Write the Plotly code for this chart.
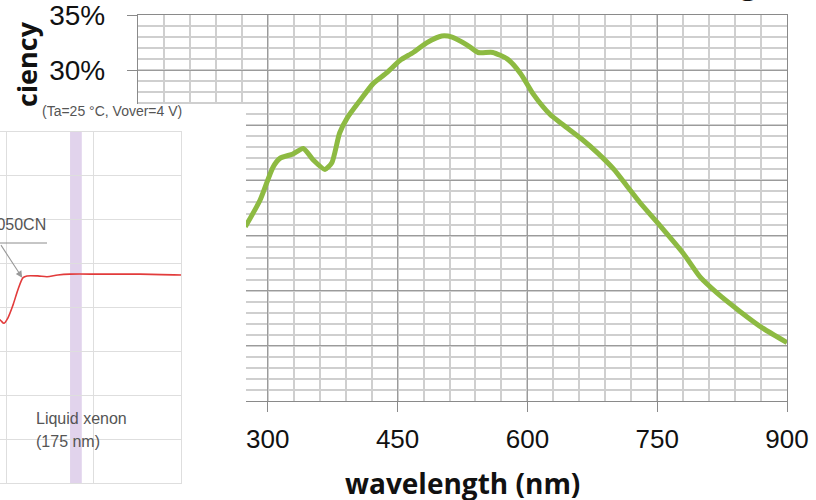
import plotly.graph_objects as go

W, H = 816, 500

# ---------------- main chart: PDE vs wavelength ----------------
wavelength_nm = [274, 291, 306, 314, 329, 341, 352, 366, 374, 383, 392, 407, 422, 438, 453,
                 468, 484, 501, 513, 530, 543, 560, 577, 592, 607, 626, 642, 662, 681, 700,
                 715, 730, 751, 780, 800, 819, 846, 872, 900]
pde_percent = [15.8, 18.2, 21.2, 22.0, 22.4, 22.9, 21.9, 21.0, 21.6, 24.3, 25.7, 27.3, 28.8,
               29.8, 30.9, 31.6, 32.5, 33.1, 33.0, 32.3, 31.6, 31.6, 31.0, 29.7, 27.8, 26.0,
               25.0, 23.8, 22.5, 21.0, 19.5, 18.0, 16.1, 13.4, 11.2, 9.8, 8.1, 6.6, 5.3]
x_tick_vals = [150, 300, 450, 600, 750, 900]
x_tick_text = ["150", "300", "450", "600", "750", "900"]
y_tick_vals = [0, 5, 10, 15, 20, 25, 30, 35]
y_tick_text = ["0%", "5%", "10%", "15%", "20%", "25%", "30%", "35%"]

# ---------------- inset: VUV PDE ----------------
inset_nm = [157.0, 158.4, 159.3, 160.2, 161.4, 162.5, 163.7, 164.6, 167.1, 169.2, 171.7,
            174.5, 181.4, 190.6, 200.0]
inset_pde = [19.0, 18.6, 18.2, 18.8, 20.3, 22.0, 23.4, 23.6, 23.6, 23.5, 23.7, 23.8, 23.8,
             23.8, 23.7]
inset_tick_vals = [160, 180, 200]
inset_tick_text = ["160", "180", "200"]
xenon_band = [174.5, 177.2]


def fx(p):
    return p / W


def fy(p):
    return 1 - p / H


fig = go.Figure()

fig.add_trace(go.Scatter(
    x=wavelength_nm, y=pde_percent, mode="lines",
    line=dict(color="#8dba42", width=5, shape="spline", smoothing=0.6),
    xaxis="x", yaxis="y", hoverinfo="skip", showlegend=False))

# white cover of the pasted inset picture
fig.add_trace(go.Scatter(
    x=[0, 1, 1, 0, 0], y=[0, 0, 1, 1, 0], mode="lines", fill="toself",
    fillcolor="white", line=dict(width=0, color="white"),
    xaxis="x2", yaxis="y2", hoverinfo="skip", showlegend=False))

fig.add_trace(go.Scatter(
    x=inset_nm, y=inset_pde, mode="lines",
    line=dict(color="#e23b3b", width=1.6, shape="spline", smoothing=0.8),
    xaxis="x3", yaxis="y3", hoverinfo="skip", showlegend=False))

major_grid = "#9b9b9b"
minor_grid = "#cfcfcf"
tick_font = dict(family="Liberation Sans, Arial, sans-serif", color="#111")

fig.update_layout(
    width=W, height=H, autosize=False,
    margin=dict(l=0, r=0, t=0, b=0, pad=0),
    paper_bgcolor="white", plot_bgcolor="white",
    showlegend=False,
    xaxis=dict(
        domain=[fx(138), fx(787)], range=[150, 900], anchor="y",
        tickvals=x_tick_vals, ticktext=x_tick_text, ticks="outside", ticklen=10,
        tickwidth=1.3, tickcolor="#8a8a8a", tickfont=dict(size=26, **tick_font),
        ticklabelstandoff=5, ticklabeloverflow="allow",
        showgrid=True, gridcolor=major_grid, gridwidth=1.4,
        minor=dict(dtick=30, tick0=150, showgrid=True, gridcolor=minor_grid, gridwidth=2),
        showline=True, linecolor="#8a8a8a", linewidth=1.4, mirror=True,
        zeroline=False, automargin=False, fixedrange=True),
    yaxis=dict(
        domain=[fy(401), fy(15)], range=[0, 35], anchor="x",
        tickvals=y_tick_vals, ticktext=y_tick_text, ticks="outside", ticklen=10,
        tickwidth=1.3, tickcolor="#8a8a8a", tickfont=dict(size=28, **tick_font),
        ticklabelstandoff=16, ticklabeloverflow="allow",
        showgrid=True, gridcolor=major_grid, gridwidth=1.4,
        minor=dict(dtick=1, tick0=0, showgrid=True, gridcolor=minor_grid, gridwidth=2),
        showline=True, linecolor="#8a8a8a", linewidth=1.4, mirror=True,
        zeroline=False, automargin=False, fixedrange=True),
    xaxis2=dict(domain=[0, fx(246)], range=[0, 1], anchor="y2", visible=False,
                fixedrange=True),
    yaxis2=dict(domain=[0, fy(104)], range=[0, 1], anchor="x2", visible=False,
                fixedrange=True),
    xaxis3=dict(
        domain=[0, fx(181)], range=[158.4, 200], anchor="y3",
        tickvals=inset_tick_vals, ticktext=inset_tick_text, ticks="",
        tickfont=dict(size=13, family="Liberation Sans, Arial, sans-serif", color="#666"),
        ticklabelstandoff=12, ticklabeloverflow="allow",
        showgrid=True, gridcolor="#dedede", gridwidth=1,
        showline=True, linecolor="#dedede", linewidth=1, mirror=True,
        zeroline=False, automargin=False, fixedrange=True),
    yaxis3=dict(
        domain=[fy(483), fy(132)], range=[0, 40], anchor="x3", dtick=5,
        showticklabels=False, ticks="",
        showgrid=True, gridcolor="#dedede", gridwidth=1,
        showline=True, linecolor="#dedede", linewidth=1, mirror=True,
        zeroline=False, automargin=False, fixedrange=True),
)

fig.add_shape(type="rect", xref="x3", yref="y3", x0=xenon_band[0], x1=xenon_band[1],
              y0=0, y1=40, fillcolor="#e1d3ec", line=dict(width=0), layer="below")
fig.add_shape(type="line", xref="paper", yref="paper", x0=0, x1=fx(47), y0=fy(243),
              y1=fy(243), line=dict(color="#8c8c8c", width=1), layer="above")

small = "Liberation Sans, Arial, sans-serif"
ann = [
    dict(text="(Ta=25 °C, Vover=4 V)", x=fx(112), y=fy(111), xanchor="center",
         yanchor="middle", font=dict(size=14, family=small, color="#555")),
    dict(text="Liquid xenon", x=fx(34), y=fy(418), xanchor="left", yanchor="middle",
         font=dict(size=16, family=small, color="#555")),
    dict(text="(175 nm)", x=fx(34), y=fy(441), xanchor="left", yanchor="middle",
         font=dict(size=16, family=small, color="#555")),
    dict(text="S13370-6050CN", x=fx(48), y=fy(225), xanchor="right", yanchor="middle",
         font=dict(size=16, family=small, color="#555")),
    dict(text="wavelength (nm)", x=fx(462), y=fy(483), xanchor="center", yanchor="middle",
         font=dict(size=28, family="Open Sans, sans-serif", color="#111", weight="bold")),
    dict(text="ciency", x=fx(26), y=fy(64), xanchor="center", yanchor="middle",
         textangle=-90,
         font=dict(size=27, family="Open Sans, sans-serif", color="#111", weight="bold")),
    dict(text="PDE (Hamamatsu, S13360-50, vs wavelength)",
         x=fx(806), y=1, xanchor="right", yanchor="bottom", yshift=-4,
         font=dict(size=32, family="Open Sans, sans-serif", color="#111", weight="bold")),
]
for a in ann:
    fig.add_annotation(xref="paper", yref="paper", showarrow=False, **a)

fig.add_annotation(xref="x3", yref="y3", x=163.5, y=23.4, text="", showarrow=True,
                   ax=-30, ay=-34, arrowhead=2, arrowsize=1.2, arrowwidth=1.1,
                   arrowcolor="#999")

fig.write_html("out.html", config={"displayModeBar": False},
               post_script="document.body.style.margin='0px';")
